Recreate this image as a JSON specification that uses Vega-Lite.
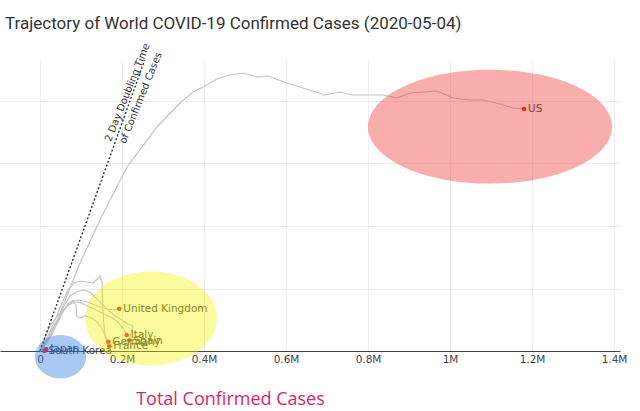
{
  "$schema": "https://vega.github.io/schema/vega-lite/v6.json",
  "title": {
    "text": "Trajectory of World COVID-19 Confirmed Cases (2020-05-04)",
    "anchor": "start",
    "frame": "group",
    "font": "Roboto",
    "fontSize": 17,
    "fontWeight": "normal",
    "color": "#333333",
    "dx": 5,
    "offset": 9
  },
  "width": 620,
  "height": 291,
  "autosize": "none",
  "padding": {"left": 0, "top": 60, "right": 20, "bottom": 60},
  "datasets": {
    "trajectories": [
      {"country": "US", "step": 0, "total": 0, "weekly": 0},
      {"country": "US", "step": 1, "total": 9800, "weekly": 8800},
      {"country": "US", "step": 2, "total": 24400, "weekly": 20000},
      {"country": "US", "step": 3, "total": 48800, "weekly": 30400},
      {"country": "US", "step": 4, "total": 97600, "weekly": 70400},
      {"country": "US", "step": 5, "total": 146300, "weekly": 104800},
      {"country": "US", "step": 6, "total": 212200, "weekly": 147200},
      {"country": "US", "step": 7, "total": 285400, "weekly": 179200},
      {"country": "US", "step": 8, "total": 341500, "weekly": 198400},
      {"country": "US", "step": 9, "total": 373200, "weekly": 207200},
      {"country": "US", "step": 10, "total": 397600, "weekly": 211200},
      {"country": "US", "step": 11, "total": 431700, "weekly": 217600},
      {"country": "US", "step": 12, "total": 463400, "weekly": 220800},
      {"country": "US", "step": 13, "total": 495100, "weekly": 222400},
      {"country": "US", "step": 14, "total": 529300, "weekly": 219200},
      {"country": "US", "step": 15, "total": 556100, "weekly": 220000},
      {"country": "US", "step": 16, "total": 602400, "weekly": 214400},
      {"country": "US", "step": 17, "total": 641500, "weekly": 210400},
      {"country": "US", "step": 18, "total": 695100, "weekly": 204800},
      {"country": "US", "step": 19, "total": 731700, "weekly": 207200},
      {"country": "US", "step": 20, "total": 761000, "weekly": 204800},
      {"country": "US", "step": 21, "total": 836600, "weekly": 204800},
      {"country": "US", "step": 22, "total": 870700, "weekly": 202400},
      {"country": "US", "step": 23, "total": 902400, "weekly": 206400},
      {"country": "US", "step": 24, "total": 968300, "weekly": 208000},
      {"country": "US", "step": 25, "total": 1007300, "weekly": 202400},
      {"country": "US", "step": 26, "total": 1048800, "weekly": 200800},
      {"country": "US", "step": 27, "total": 1080500, "weekly": 200800},
      {"country": "US", "step": 28, "total": 1122000, "weekly": 197600},
      {"country": "US", "step": 29, "total": 1153700, "weekly": 194400},
      {"country": "US", "step": 30, "total": 1180500, "weekly": 193600},
      {"country": "France", "step": 0, "total": 0, "weekly": 0},
      {"country": "France", "step": 1, "total": 7300, "weekly": 4000},
      {"country": "France", "step": 2, "total": 19500, "weekly": 12000},
      {"country": "France", "step": 3, "total": 36600, "weekly": 24800},
      {"country": "France", "step": 4, "total": 53700, "weekly": 38400},
      {"country": "France", "step": 5, "total": 68300, "weekly": 48800},
      {"country": "France", "step": 6, "total": 82900, "weekly": 54400},
      {"country": "France", "step": 7, "total": 97600, "weekly": 56000},
      {"country": "France", "step": 8, "total": 114600, "weekly": 55200},
      {"country": "France", "step": 9, "total": 129300, "weekly": 54400},
      {"country": "France", "step": 10, "total": 146300, "weekly": 60000},
      {"country": "France", "step": 11, "total": 151200, "weekly": 55200},
      {"country": "France", "step": 12, "total": 152400, "weekly": 40800},
      {"country": "France", "step": 13, "total": 154900, "weekly": 24800},
      {"country": "France", "step": 14, "total": 158500, "weekly": 12000},
      {"country": "France", "step": 15, "total": 163400, "weekly": 6400},
      {"country": "France", "step": 16, "total": 169000, "weekly": 3800},
      {"country": "United Kingdom", "step": 0, "total": 0, "weekly": 0},
      {"country": "United Kingdom", "step": 1, "total": 12200, "weekly": 4800},
      {"country": "United Kingdom", "step": 2, "total": 29300, "weekly": 13600},
      {"country": "United Kingdom", "step": 3, "total": 43900, "weekly": 23200},
      {"country": "United Kingdom", "step": 4, "total": 58500, "weekly": 32800},
      {"country": "United Kingdom", "step": 5, "total": 78000, "weekly": 40000},
      {"country": "United Kingdom", "step": 6, "total": 92700, "weekly": 40800},
      {"country": "United Kingdom", "step": 7, "total": 107300, "weekly": 40000},
      {"country": "United Kingdom", "step": 8, "total": 122000, "weekly": 38400},
      {"country": "United Kingdom", "step": 9, "total": 146300, "weekly": 35200},
      {"country": "United Kingdom", "step": 10, "total": 165900, "weekly": 33600},
      {"country": "United Kingdom", "step": 11, "total": 178000, "weekly": 32800},
      {"country": "United Kingdom", "step": 12, "total": 193400, "weekly": 33800},
      {"country": "Italy", "step": 0, "total": 0, "weekly": 0},
      {"country": "Italy", "step": 1, "total": 4900, "weekly": 2400},
      {"country": "Italy", "step": 2, "total": 14600, "weekly": 8800},
      {"country": "Italy", "step": 3, "total": 29300, "weekly": 16800},
      {"country": "Italy", "step": 4, "total": 48800, "weekly": 28800},
      {"country": "Italy", "step": 5, "total": 65900, "weekly": 36000},
      {"country": "Italy", "step": 6, "total": 82900, "weekly": 39200},
      {"country": "Italy", "step": 7, "total": 97600, "weekly": 38700},
      {"country": "Italy", "step": 8, "total": 117100, "weekly": 36000},
      {"country": "Italy", "step": 9, "total": 136600, "weekly": 32800},
      {"country": "Italy", "step": 10, "total": 156100, "weekly": 29600},
      {"country": "Italy", "step": 11, "total": 175600, "weekly": 26400},
      {"country": "Italy", "step": 12, "total": 190200, "weekly": 23200},
      {"country": "Italy", "step": 13, "total": 202400, "weekly": 18400},
      {"country": "Italy", "step": 14, "total": 211500, "weekly": 12800},
      {"country": "Spain", "step": 0, "total": 0, "weekly": 0},
      {"country": "Spain", "step": 1, "total": 9800, "weekly": 4000},
      {"country": "Spain", "step": 2, "total": 24400, "weekly": 12000},
      {"country": "Spain", "step": 3, "total": 41500, "weekly": 23200},
      {"country": "Spain", "step": 4, "total": 58500, "weekly": 36000},
      {"country": "Spain", "step": 5, "total": 73200, "weekly": 44000},
      {"country": "Spain", "step": 6, "total": 87800, "weekly": 47200},
      {"country": "Spain", "step": 7, "total": 104900, "weekly": 48800},
      {"country": "Spain", "step": 8, "total": 122000, "weekly": 47200},
      {"country": "Spain", "step": 9, "total": 141500, "weekly": 40800},
      {"country": "Spain", "step": 10, "total": 161000, "weekly": 34400},
      {"country": "Spain", "step": 11, "total": 180500, "weekly": 28800},
      {"country": "Spain", "step": 12, "total": 200000, "weekly": 24800},
      {"country": "Spain", "step": 13, "total": 214600, "weekly": 21600},
      {"country": "Spain", "step": 14, "total": 226800, "weekly": 20000},
      {"country": "Spain", "step": 15, "total": 222000, "weekly": 14400},
      {"country": "Spain", "step": 16, "total": 218000, "weekly": 8400},
      {"country": "Germany", "step": 0, "total": 0, "weekly": 0},
      {"country": "Germany", "step": 1, "total": 7300, "weekly": 3200},
      {"country": "Germany", "step": 2, "total": 19500, "weekly": 9600},
      {"country": "Germany", "step": 3, "total": 36600, "weekly": 20800},
      {"country": "Germany", "step": 4, "total": 53700, "weekly": 31200},
      {"country": "Germany", "step": 5, "total": 68300, "weekly": 37600},
      {"country": "Germany", "step": 6, "total": 80500, "weekly": 40000},
      {"country": "Germany", "step": 7, "total": 87800, "weekly": 36000},
      {"country": "Germany", "step": 8, "total": 90200, "weekly": 28000},
      {"country": "Germany", "step": 9, "total": 97600, "weekly": 26400},
      {"country": "Germany", "step": 10, "total": 109800, "weekly": 28000},
      {"country": "Germany", "step": 11, "total": 126800, "weekly": 26400},
      {"country": "Germany", "step": 12, "total": 141500, "weekly": 22400},
      {"country": "Germany", "step": 13, "total": 151200, "weekly": 17600},
      {"country": "Germany", "step": 14, "total": 158500, "weekly": 12800},
      {"country": "Germany", "step": 15, "total": 166600, "weekly": 7400},
      {"country": "Japan", "step": 0, "total": 0, "weekly": 0},
      {"country": "Japan", "step": 1, "total": 2400, "weekly": 800},
      {"country": "Japan", "step": 2, "total": 6100, "weekly": 2400},
      {"country": "Japan", "step": 3, "total": 9800, "weekly": 3600},
      {"country": "Japan", "step": 4, "total": 12200, "weekly": 2800},
      {"country": "Japan", "step": 5, "total": 15100, "weekly": 1400},
      {"country": "South Korea", "step": 0, "total": 0, "weekly": 0},
      {"country": "South Korea", "step": 1, "total": 2400, "weekly": 2000},
      {"country": "South Korea", "step": 2, "total": 6600, "weekly": 4000},
      {"country": "South Korea", "step": 3, "total": 8500, "weekly": 2000},
      {"country": "South Korea", "step": 4, "total": 10000, "weekly": 600},
      {"country": "South Korea", "step": 5, "total": 10800, "weekly": 60}
    ],
    "doubling": [
      {"total": 0, "weekly": 0},
      {"total": 255000, "weekly": 232500}
    ],
    "note": [
      {"text": "2 Day Doubling Time\nof Confirmed Cases", "total": 213400, "weekly": 206800}
    ],
    "clusters": [
      {"group": "US", "total": 1097600, "weekly": 179500},
      {"group": "Europe", "total": 270700, "weekly": 26000},
      {"group": "Asia", "total": 50000, "weekly": -4600}
    ]
  },
  "layer": [
    {
      "data": {"name": "trajectories"},
      "mark": {"type": "line", "color": "#c4c4c4", "strokeWidth": 1.2},
      "encoding": {
        "x": {
          "field": "total",
          "type": "quantitative",
          "scale": {"domain": [-97561, 1414634], "nice": false, "zero": false},
          "axis": {
            "values": [0, 200000, 400000, 600000, 800000, 1000000, 1200000, 1400000],
            "labelExpr": "datum.value == 0 ? '0' : format(datum.value / 1000000, '~g') + 'M'",
            "grid": true,
            "gridColor": "#eeeeee",
            "ticks": false,
            "domainColor": "#444444",
            "labelFont": "DejaVu Sans",
            "labelFontSize": 10.5,
            "labelColor": "#444444",
            "labelPadding": 3,
            "labelFlush": false,
            "title": "Total Confirmed Cases",
            "titleFont": "Open Sans",
            "titleFontSize": 18,
            "titleFontWeight": "normal",
            "titleColor": "#d8266e",
            "titleX": 230,
            "titleY": 53,
            "titleAlign": "center",
            "titleBaseline": "alphabetic"
          }
        },
        "y": {
          "field": "weekly",
          "type": "quantitative",
          "scale": {"domain": [0, 232800], "nice": false},
          "axis": {
            "values": [50000, 100000, 150000, 200000],
            "labels": false,
            "ticks": false,
            "domain": false,
            "grid": true,
            "gridColor": "#eeeeee",
            "title": null
          }
        },
        "detail": {"field": "country"},
        "order": {"field": "step"}
      }
    },
    {
      "data": {"name": "doubling"},
      "mark": {"type": "line", "color": "#333333", "strokeWidth": 1.4, "strokeDash": [2, 2]},
      "encoding": {
        "x": {"field": "total", "type": "quantitative"},
        "y": {"field": "weekly", "type": "quantitative"}
      }
    },
    {
      "mark": {"type": "rule", "color": "#444444", "strokeWidth": 1},
      "encoding": {
        "x": {"datum": 0}
      }
    },
    {
      "data": {"name": "trajectories"},
      "transform": [
        {"joinaggregate": [{"op": "max", "field": "step", "as": "last"}], "groupby": ["country"]},
        {"filter": "datum.step == datum.last"}
      ],
      "mark": {"type": "circle", "size": 22, "color": "#e8262b", "opacity": 1},
      "encoding": {
        "x": {"field": "total", "type": "quantitative"},
        "y": {"field": "weekly", "type": "quantitative"}
      }
    },
    {
      "data": {"name": "trajectories"},
      "transform": [
        {"joinaggregate": [{"op": "max", "field": "step", "as": "last"}], "groupby": ["country"]},
        {"filter": "datum.step == datum.last"}
      ],
      "mark": {"type": "text", "align": "left", "baseline": "middle", "dx": 4, "font": "DejaVu Sans", "fontSize": 10.5, "color": "#444444"},
      "encoding": {
        "x": {"field": "total", "type": "quantitative"},
        "y": {"field": "weekly", "type": "quantitative"},
        "text": {"field": "country"}
      }
    },
    {
      "data": {"name": "note"},
      "mark": {"type": "text", "align": "center", "baseline": "middle", "angle": -68, "lineBreak": "\n", "lineHeight": 14.5, "font": "DejaVu Sans", "fontSize": 10, "color": "#333333"},
      "encoding": {
        "x": {"field": "total", "type": "quantitative"},
        "y": {"field": "weekly", "type": "quantitative"},
        "text": {"field": "text"}
      }
    },
    {
      "data": {"name": "clusters"},
      "transform": [{"filter": "datum.group == 'US'"}],
      "mark": {"type": "point", "filled": true, "shape": "M -1 0 A 1 0.467 0 1 0 1 0 A 1 0.467 0 1 0 -1 0 Z", "size": 59536, "color": "#f03232", "opacity": 0.4, "strokeWidth": 0},
      "encoding": {
        "x": {"field": "total", "type": "quantitative"},
        "y": {"field": "weekly", "type": "quantitative"}
      }
    },
    {
      "data": {"name": "clusters"},
      "transform": [{"filter": "datum.group == 'Europe'"}],
      "mark": {"type": "point", "filled": true, "shape": "M -1 0 A 1 0.712 0 1 0 1 0 A 1 0.712 0 1 0 -1 0 Z", "size": 17424, "color": "#f5f500", "opacity": 0.38, "strokeWidth": 0},
      "encoding": {
        "x": {"field": "total", "type": "quantitative"},
        "y": {"field": "weekly", "type": "quantitative"}
      }
    },
    {
      "data": {"name": "clusters"},
      "transform": [{"filter": "datum.group == 'Asia'"}],
      "mark": {"type": "point", "filled": true, "shape": "M -1 0 A 1 0.851 0 1 0 1 0 A 1 0.851 0 1 0 -1 0 Z", "size": 2601, "color": "#2878e6", "opacity": 0.4, "strokeWidth": 0},
      "encoding": {
        "x": {"field": "total", "type": "quantitative"},
        "y": {"field": "weekly", "type": "quantitative"}
      }
    }
  ],
  "config": {
    "view": {"stroke": null}
  }
}
